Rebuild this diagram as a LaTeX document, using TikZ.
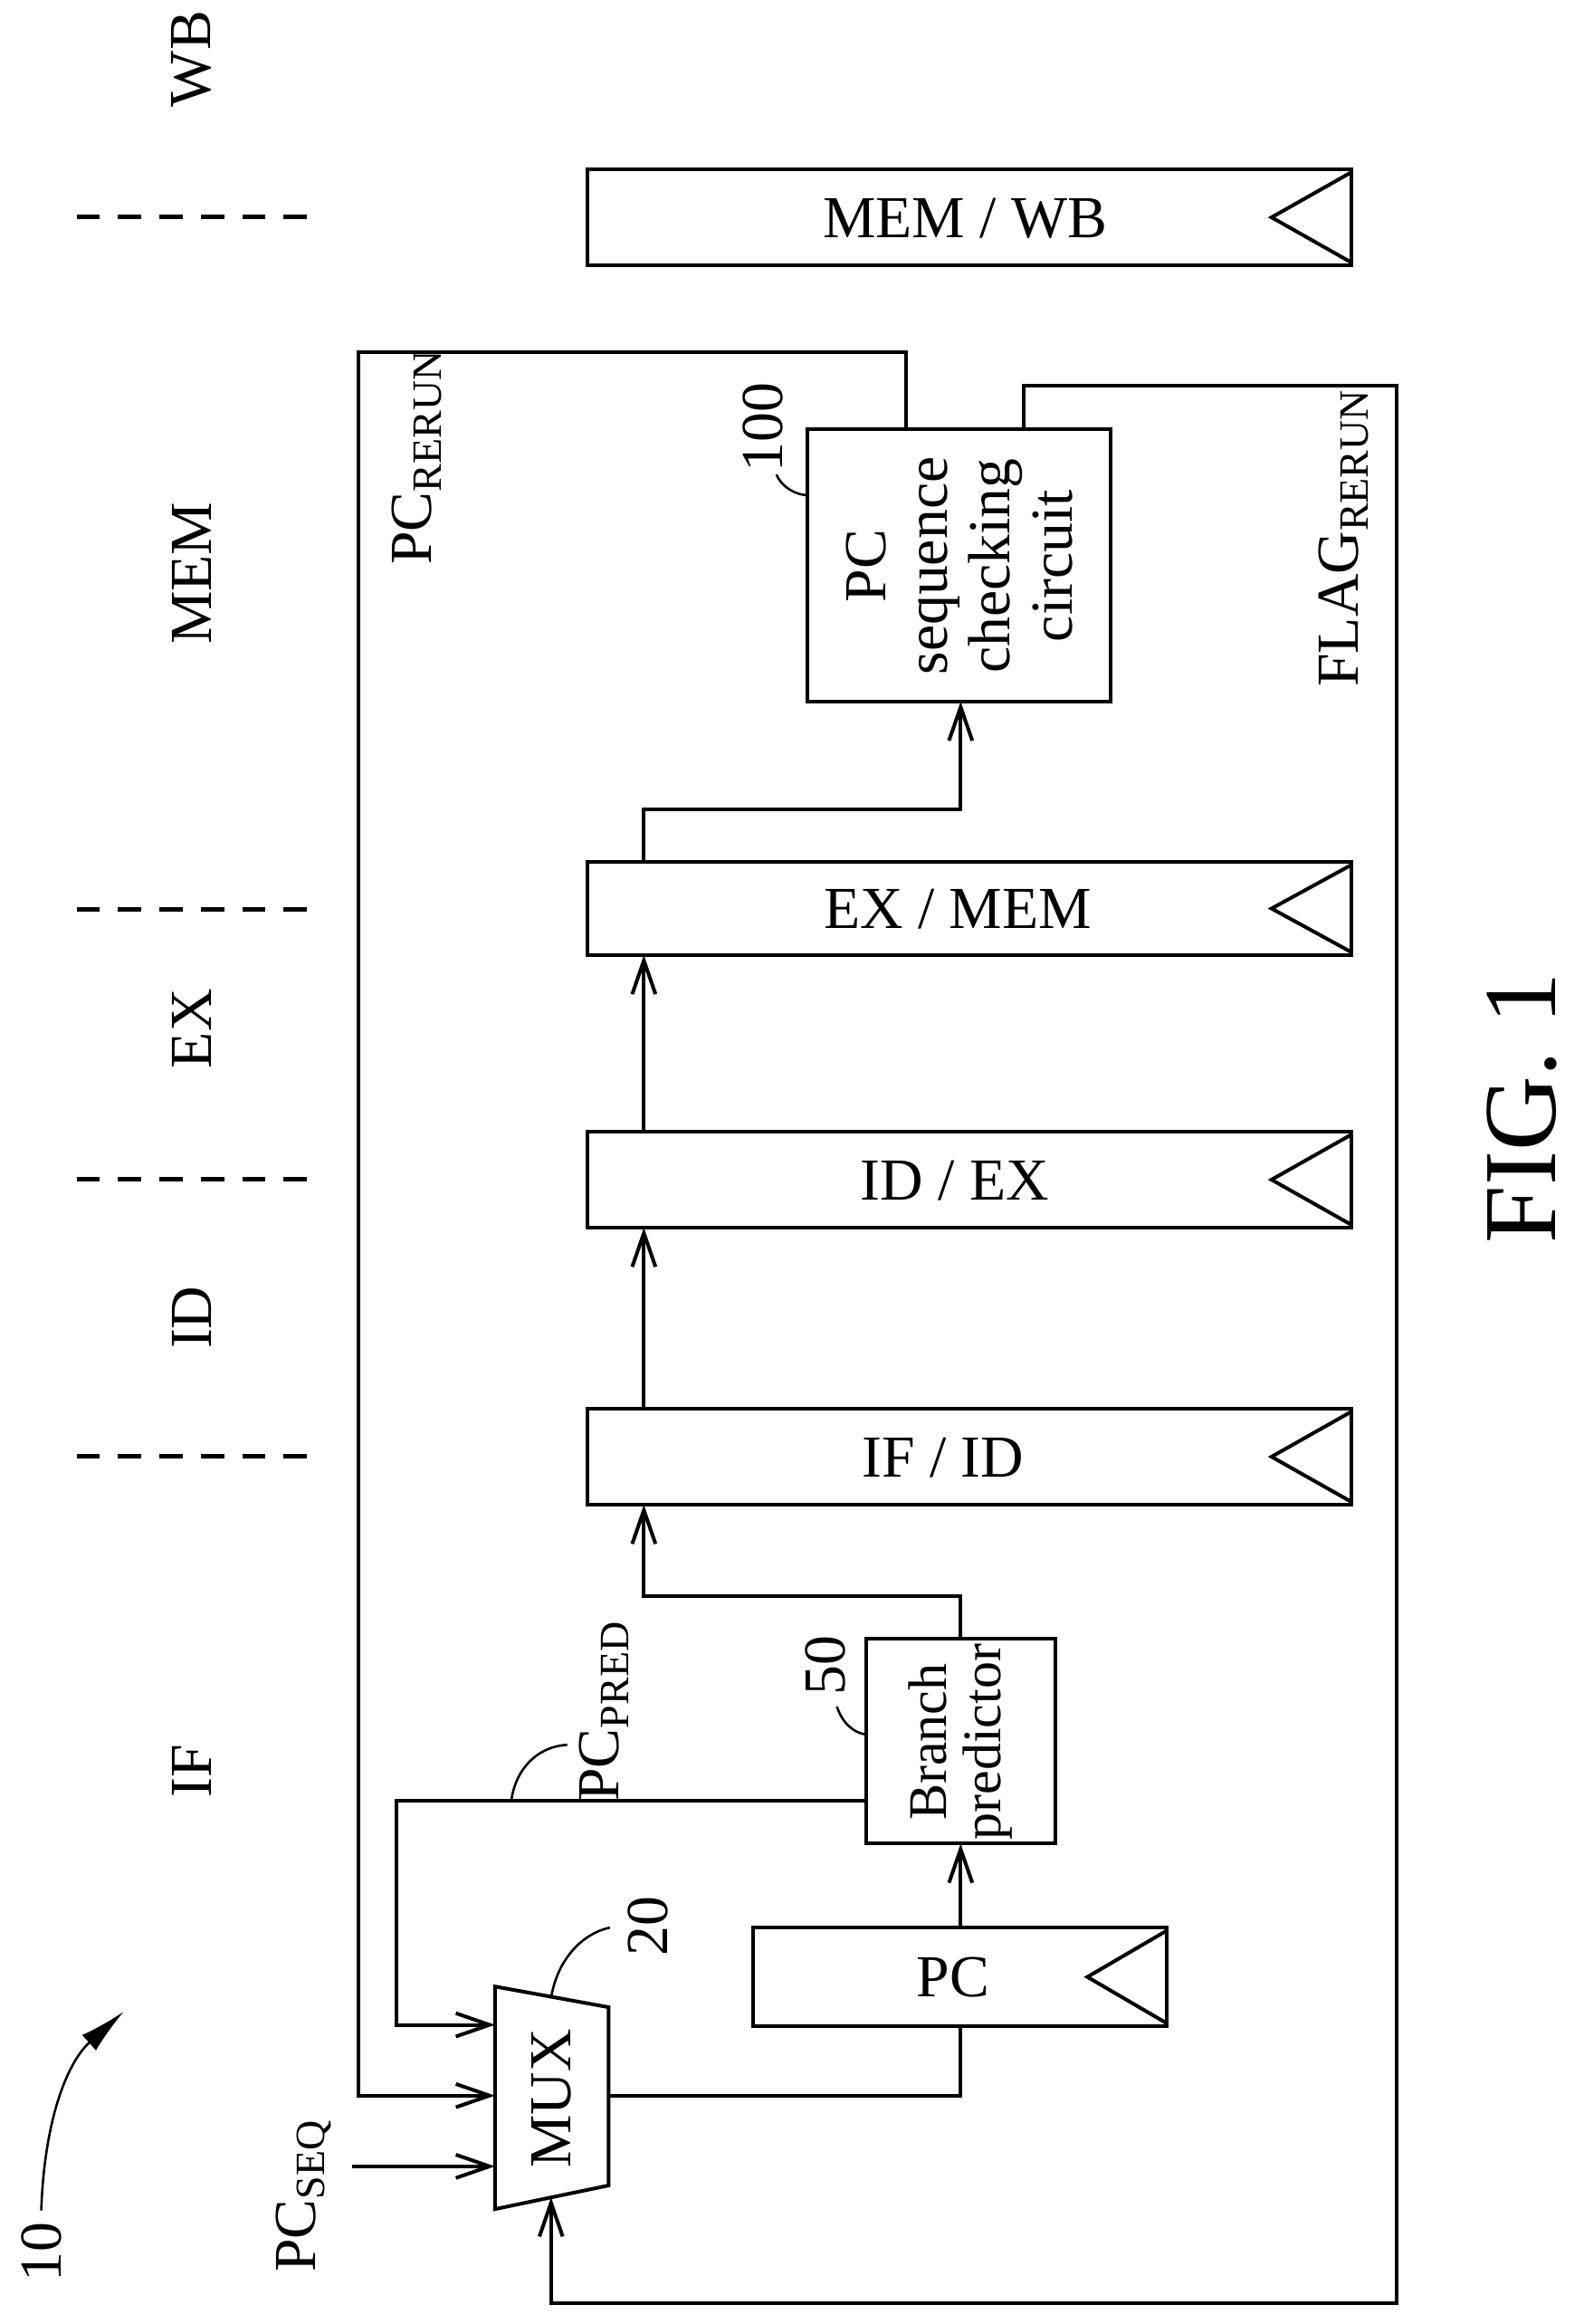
\documentclass[tikz,border=0pt]{standalone}
\usepackage{fontspec}
\setmainfont{Liberation Serif}
\usetikzlibrary{arrows.meta}
\begin{document}
\begin{tikzpicture}[x=0.02cm,y=-0.02cm,line width=1.4pt,
  txt/.style={font=\fontsize{23}{25}\selectfont},
  rt/.style={txt,rotate=90},
  arr/.style={-{Straight Barb[length=13pt,width=9pt]}},
  lead/.style={line width=0.9pt},
  dsh/.style={dash pattern=on 9pt off 7pt}]
\useasboundingbox (0,0) rectangle (1075,1577);
% stage dividers
\foreach \y/\n in {147/a,617/b,800/c,988/d}{\draw[dsh,line width=1.8pt] (52,\y) coordinate (l\n) -- (211,\y) coordinate (r\n);}
\node[rt] (sWB) at (130,40) {WB};
\node[rt] (sMEM) at (130,389) {MEM};
\node[rt] (sEX) at (130,698) {EX};
\node[rt] (sID) at (130,894) {ID};
\node[rt] (sIF) at (130,1202) {IF};
% registers
\newcommand{\regbox}[4]{% x1,y1,x2,y2
  \draw (#1,#2) rectangle (#3,#4);
  \draw (#3,#2+2) -- (#3-54,{(#2+#4)/2}) -- (#3,#4-2);}
\regbox{399}{115}{917}{180}
\node[txt] (mw) at (655,148) {MEM / WB};
\regbox{399}{585}{917}{648}
\node[txt] (em) at (650,617) {EX / MEM};
\regbox{399}{768}{917}{833}
\node[txt] (ie) at (648,801) {ID / EX};
\regbox{399}{956}{917}{1021}
\node[txt] (fi) at (640,989) {IF / ID};
\regbox{511}{1308}{792}{1375}
\node[txt] (pc) at (647,1342) {PC};
% PC sequence checking
\draw (548,291) rectangle (754,476);
\node[rt,align=center,font=\fontsize{23}{24}\selectfont] (chk) at (651,384) {PC\\sequence\\checking\\circuit};
% branch predictor
\draw (588,1112) rectangle (716,1251);
\node[rt,align=center,font=\fontsize{21}{21}\selectfont] (bp) at (652,1182) {Branch\\predictor};
% MUX
\draw (336,1348) -- (413,1362) -- (413,1483) -- (336,1499) -- cycle;
\node[rt] (mux) at (374,1424) {MUX};
% connections
\draw[arr] (652,1112) -- (652,1083) -- (437,1083) -- (437,1021);
\draw[arr] (437,956) -- (437,833);
\draw[arr] (437,768) -- (437,648);
\draw[arr] (437,585) -- (437,549) -- (652,549) -- (652,476);
\draw[arr] (652,1308) -- (652,1251);
\draw (413,1422) -- (652,1422) -- (652,1375);
\draw[arr] (615,291) -- (615,239) -- (243,239) -- (243,1422) -- (336,1422);
\draw[arr] (695,291) -- (695,262) -- (948,262) -- (948,1563) -- (374,1563) -- (374,1491);
\draw[arr] (588,1222) -- (269,1222) -- (269,1374) -- (336,1374);
\draw[arr] (239,1470) -- (336,1470);
% labels
\node[rt] (prr) at (283,310) {PC\textsubscript{RERUN}};
\node[rt] (flg) at (912,365) {FLAG\textsubscript{RERUN}};
\node[rt] (ppr) at (410,1161) {PC\textsubscript{PRED}};
\node[rt] (psq) at (206,1490) {PC\textsubscript{SEQ}};
\draw[lead] (347,1222) .. controls (350,1200) and (365,1185) .. (385,1184);
\node[rt] (n100) at (518,290) {100};
\draw[lead] (527,322) .. controls (530,330) and (540,336) .. (548,336);
\node[rt] (n50) at (560,1130) {50};
\draw[lead] (568,1158) .. controls (572,1170) and (580,1176) .. (588,1177);
\node[rt] (n20) at (440,1307) {20};
\draw[lead] (374,1356) .. controls (378,1330) and (395,1312) .. (414,1308);
\node[rt] (n10) at (28,1528) {10};
\draw[lead,-{Latex[length=18pt,width=8pt]}] (28,1500) .. controls (30,1440) and (45,1400) .. (84,1365);
\node[rotate=90,font=\fontsize{40}{42}\selectfont] (fig) at (1033,752) {FIG. 1};
\end{tikzpicture}
\end{document}
